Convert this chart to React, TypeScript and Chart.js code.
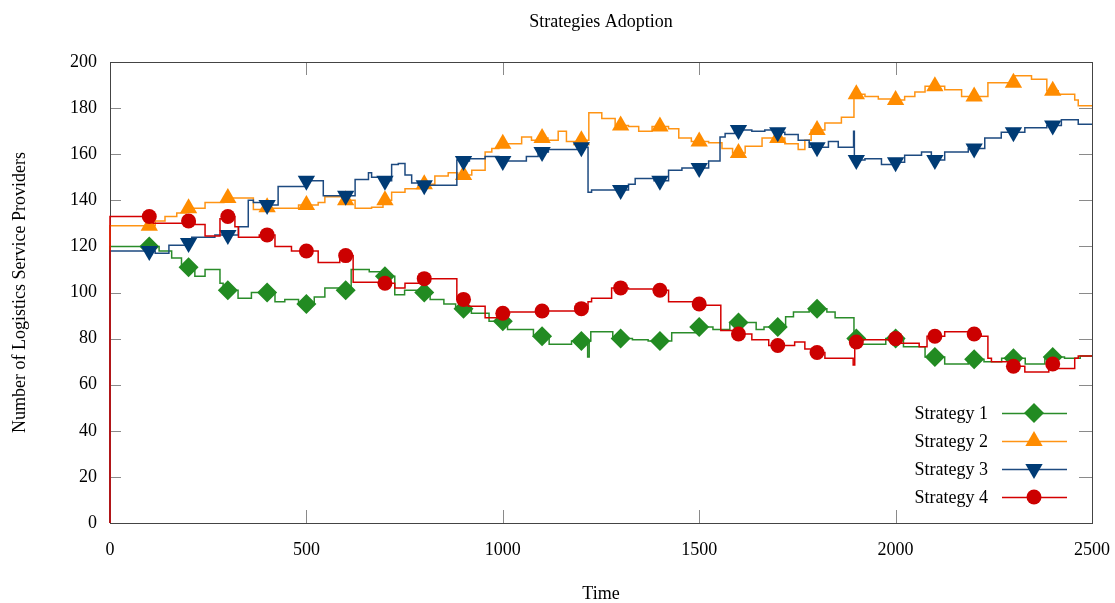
import React, { useEffect, useRef } from 'react';
import { Chart, registerables } from 'chart.js';

Chart.register(...registerables);

const chartTitle = 'Strategies Adoption';
const xAxisTitle = 'Time';
const yAxisTitle = 'Number of Logistics Service Providers';
const seriesNames = ['Strategy 1', 'Strategy 2', 'Strategy 3', 'Strategy 4'];
const xTicks = [0, 500, 1000, 1500, 2000, 2500];
const yTicks = [0, 20, 40, 60, 80, 100, 120, 140, 160, 180, 200];
const markerTimes = [100, 200, 300, 400, 500, 600, 700, 800, 900, 1000, 1100, 1200, 1300, 1400, 1500, 1600, 1700, 1800, 1900, 2000, 2100, 2200, 2300, 2400];

// [time, value] : value holds from this time until the next entry
const strategy1Steps: [number, number][] = [
  [0, 0], [0, 120], [125, 118], [157, 115], [182, 111], [216, 107], [242, 110], [280, 104], [288, 101],
  [326, 97.5], [360, 100], [420, 96], [445, 97], [480, 95], [520, 98], [547, 102], [585, 101], [614, 110],
  [660, 109], [690, 107], [725, 99], [750, 101], [790, 100], [815, 97], [850, 95], [880, 93], [920, 91],
  [965, 87.5], [1012, 84], [1078, 81], [1118, 77.5], [1175, 79], [1216, 72], [1220, 79], [1224, 83],
  [1280, 80], [1330, 79.5], [1370, 79], [1430, 82.5], [1495, 85], [1535, 84], [1578, 87], [1645, 84],
  [1665, 85], [1720, 89.5], [1740, 91.5], [1780, 93], [1825, 91.5], [1846, 89], [1894, 80], [1910, 77.5],
  [1975, 80], [2020, 76.5], [2075, 72], [2125, 69], [2185, 71], [2225, 70], [2270, 71.5], [2330, 69],
  [2380, 72], [2430, 71.5], [2470, 72.5], [2500, 72.5],
];

const strategy2Steps: [number, number][] = [
  [0, 0], [0, 129], [115, 131], [140, 133], [170, 134.5], [195, 136.5], [242, 139], [290, 141], [365, 136],
  [395, 137], [410, 136.5], [480, 138], [530, 139], [547, 141.5], [590, 140], [624, 136.5], [666, 137],
  [695, 140], [717, 143.5], [751, 145], [793, 147], [827, 150.5], [861, 152], [885, 151], [921, 153],
  [955, 161], [972, 162.5], [990, 164.5], [1048, 167.5], [1073, 166], [1095, 167], [1115, 166], [1141, 170],
  [1162, 165.5], [1190, 166], [1219, 178], [1252, 175.5], [1286, 172.5], [1320, 172], [1346, 170],
  [1380, 172], [1422, 171], [1448, 167], [1480, 165.5], [1524, 165], [1558, 162.5], [1585, 160.5],
  [1617, 163.5], [1660, 167], [1718, 164.5], [1752, 162], [1769, 166], [1785, 170.5], [1820, 173.5],
  [1862, 176], [1894, 186], [1922, 185], [1956, 184], [1990, 183.5], [2023, 185], [2049, 187],
  [2075, 189.5], [2125, 188], [2168, 185], [2235, 191], [2303, 194], [2346, 192.5], [2385, 187.5],
  [2414, 186], [2456, 183.5], [2465, 181], [2500, 181],
];

const strategy3Steps: [number, number][] = [
  [0, 0], [0, 118], [115, 117], [150, 120.5], [200, 121.5], [208, 124], [267, 125], [327, 128.5], [352, 140],
  [365, 139], [395, 138], [428, 146], [496, 148.5], [543, 142], [624, 149], [658, 152], [666, 150],
  [690, 148.5], [717, 155.5], [734, 156], [751, 151], [768, 147.5], [785, 146.5], [883, 157.5], [900, 157],
  [915, 158], [955, 159], [990, 157], [1060, 159], [1090, 161], [1116, 162], [1190, 163], [1217, 143.5],
  [1226, 144.5], [1320, 147], [1337, 149.5], [1385, 148.5], [1422, 153], [1456, 154], [1524, 157],
  [1553, 167.5], [1566, 169], [1590, 170.5], [1634, 170], [1667, 170.5], [1700, 169.5], [1718, 168.5],
  [1752, 166], [1780, 163], [1829, 165.5], [1854, 163], [1893, 170], [1895, 157.5], [1922, 158],
  [1964, 155.5], [1990, 156.5], [2023, 159.5], [2066, 161], [2091, 157.5], [2125, 161], [2185, 162.5],
  [2227, 167], [2269, 169.5], [2329, 171.5], [2385, 172.5], [2422, 175], [2465, 173], [2500, 173],
];

const strategy4Steps: [number, number][] = [
  [0, 0], [0, 133], [110, 130], [200, 131], [216, 129.5], [242, 124.5], [280, 132], [290, 133], [318, 128.5],
  [327, 124], [380, 125], [420, 120], [462, 118], [530, 113], [585, 116], [619, 104.5], [700, 104],
  [725, 102], [751, 104], [790, 106], [883, 97], [912, 94], [955, 89], [985, 91], [1014, 91.5], [1090, 92],
  [1190, 93], [1217, 96], [1226, 97.5], [1277, 102], [1320, 101.5], [1388, 101], [1422, 96], [1490, 95],
  [1515, 94.5], [1555, 83.5], [1590, 82], [1634, 79.5], [1677, 77], [1743, 78.5], [1769, 75.5], [1790, 74],
  [1820, 71.5], [1892, 68.5], [1896, 78.5], [1913, 79.5], [1990, 80], [2015, 78], [2060, 76.5], [2080, 81],
  [2125, 83], [2190, 82], [2218, 81], [2235, 71.5], [2244, 70], [2290, 68], [2329, 65.5], [2390, 69],
  [2414, 67], [2456, 71.5], [2465, 72.5], [2500, 72.5],
];

const allSteps = [strategy1Steps, strategy2Steps, strategy3Steps, strategy4Steps];
const lineColors = ['#2a8c2a', '#ff9414', '#1d4a80', '#d40000'];
const markerColors = ['#228b22', '#ff8c00', '#003b75', '#cc0000'];
const markerShapes = ['diamond', 'triangleUp', 'triangleDown', 'circle'];

const FONT = "'Liberation Serif', 'Times New Roman', serif";

function valueAt(steps: [number, number][], t: number): number {
  let v = steps[0][1];
  for (const [st, sv] of steps) {
    if (st <= t) v = sv;
    else break;
  }
  return v;
}

function shapeToPointStyle(shape: string): { style: string; rot: number; r: number } {
  if (shape === 'diamond') return { style: 'rectRot', rot: 0, r: 10 };
  if (shape === 'triangleUp') return { style: 'triangle', rot: 0, r: 10 };
  if (shape === 'triangleDown') return { style: 'triangle', rot: 180, r: 10 };
  return { style: 'circle', rot: 0, r: 7.5 };
}

function drawMarker(ctx: CanvasRenderingContext2D, shape: string, x: number, y: number, color: string) {
  ctx.save();
  ctx.fillStyle = color;
  ctx.beginPath();
  if (shape === 'diamond') {
    const r = 10;
    ctx.moveTo(x - r, y); ctx.lineTo(x, y - r); ctx.lineTo(x + r, y); ctx.lineTo(x, y + r);
  } else if (shape === 'triangleUp' || shape === 'triangleDown') {
    const r = 10;
    const s = shape === 'triangleUp' ? 1 : -1;
    const h = Math.sin(Math.PI / 3) * r;
    ctx.moveTo(x, y - s * r);
    ctx.lineTo(x + h, y + s * r / 2);
    ctx.lineTo(x - h, y + s * r / 2);
  } else {
    ctx.arc(x, y, 7.5, 0, Math.PI * 2);
  }
  ctx.closePath();
  ctx.fill();
  ctx.restore();
}

const framePlugin = {
  id: 'gnuFrame',
  beforeDatasetsDraw(chart: any) {
    const { ctx, chartArea } = chart;
    const { left, right, top, bottom } = chartArea;
    const xs = chart.scales.x;
    const ys = chart.scales.y;
    ctx.save();
    ctx.lineWidth = 1;
    ctx.strokeStyle = '#8a8a8a';
    ctx.beginPath();
    yTicks.forEach((v) => {
      const py = Math.round(ys.getPixelForValue(v)) + 0.5;
      ctx.moveTo(left, py); ctx.lineTo(left + 11, py);
      ctx.moveTo(right, py); ctx.lineTo(right - 13, py);
    });
    xTicks.forEach((v) => {
      const px = Math.round(xs.getPixelForValue(v)) + 0.5;
      ctx.moveTo(px, bottom); ctx.lineTo(px, bottom - 13);
      ctx.moveTo(px, top); ctx.lineTo(px, top + 13);
    });
    ctx.stroke();
    ctx.strokeStyle = '#444444';
    ctx.strokeRect(Math.round(left) + 0.5, Math.round(top) + 0.5, Math.round(right - left), Math.round(bottom - top));
    ctx.restore();
  },
};

const legendPlugin = {
  id: 'gnuLegend',
  afterDatasetsDraw(chart: any) {
    const { ctx } = chart;
    ctx.save();
    ctx.font = `18px ${FONT}`;
    ctx.textAlign = 'right';
    ctx.textBaseline = 'middle';
    seriesNames.forEach((name, i) => {
      const y = 413 + i * 28;
      ctx.fillStyle = '#000';
      ctx.fillText(name, 988, y + 1);
      ctx.strokeStyle = lineColors[i];
      ctx.lineWidth = 1.5;
      ctx.beginPath();
      ctx.moveTo(1002, y + 0.5);
      ctx.lineTo(1067, y + 0.5);
      ctx.stroke();
      drawMarker(ctx, markerShapes[i], 1034, y, markerColors[i]);
    });
    ctx.restore();
  },
};

export default function App() {
  const canvasRef = useRef<HTMLCanvasElement | null>(null);

  useEffect(() => {
    if (!canvasRef.current) return;
    const datasets: any[] = [];
    allSteps.forEach((steps, i) => {
      const ps = shapeToPointStyle(markerShapes[i]);
      datasets.push({
        label: seriesNames[i],
        data: steps.map(([x, y]) => ({ x, y })),
        stepped: 'before',
        borderColor: lineColors[i],
        backgroundColor: lineColors[i],
        borderWidth: 1.5,
        pointRadius: 0,
        fill: false,
        clip: 8,
        order: 8 - i * 2,
      });
      datasets.push({
        label: seriesNames[i] + ' markers',
        data: markerTimes.map((t) => ({ x: t, y: valueAt(steps, t) })),
        showLine: false,
        pointStyle: ps.style,
        pointRotation: ps.rot,
        pointRadius: ps.r,
        pointBorderWidth: 0,
        borderWidth: 0,
        pointBackgroundColor: markerColors[i],
        pointBorderColor: markerColors[i],
        backgroundColor: markerColors[i],
        borderColor: markerColors[i],
        clip: false,
        order: 7 - i * 2,
      });
    });

    const chart = new Chart(canvasRef.current, {
      type: 'line',
      data: { datasets },
      plugins: [framePlugin, legendPlugin],
      options: {
        animation: false,
        responsive: false,
        maintainAspectRatio: false,
        layout: { padding: { left: 0, right: 23, top: 0, bottom: 0 } },
        plugins: {
          legend: { display: false },
          tooltip: { enabled: false },
          title: {
            display: true,
            fullSize: false,
            text: chartTitle,
            color: '#000',
            font: { family: FONT, size: 18, weight: 'normal' },
            padding: { top: 11.5, bottom: 28.9 },
          },
        },
        scales: {
          x: {
            type: 'linear',
            min: xTicks[0],
            max: xTicks[xTicks.length - 1],
            grid: { display: false, drawTicks: false },
            border: { display: false },
            ticks: {
              stepSize: xTicks[1] - xTicks[0],
              color: '#000',
              padding: 16,
              maxRotation: 0,
              font: { family: FONT, size: 18 },
              callback: (v: any) => String(v),
            },
            title: {
              display: true,
              text: xAxisTitle,
              color: '#000',
              font: { family: FONT, size: 18, lineHeight: 1 },
              padding: { top: 0, bottom: 0 },
            },
            afterFit(scale: any) {
              scale.height = 80;
              scale.paddingLeft = 0;
              scale.paddingRight = 0;
            },
          },
          y: {
            type: 'linear',
            min: yTicks[0],
            max: yTicks[yTicks.length - 1],
            grid: { display: false, drawTicks: false },
            border: { display: false },
            ticks: {
              stepSize: yTicks[1] - yTicks[0],
              color: '#000',
              padding: 13,
              font: { family: FONT, size: 18 },
              callback: (v: any) => String(v),
            },
            title: {
              display: true,
              text: yAxisTitle,
              color: '#000',
              font: { family: FONT, size: 18 },
              padding: { top: 9, bottom: 0 },
            },
            afterFit(scale: any) {
              scale.width = 110;
              scale.paddingTop = 0;
              scale.paddingBottom = 0;
            },
          },
        },
      } as any,
    });
    return () => chart.destroy();
  }, []);

  return (
    <div style={{ position: 'fixed', left: 0, top: 0, width: 1115, height: 603, background: '#fff' }}>
      <canvas ref={canvasRef} width={1115} height={603} />
    </div>
  );
}
